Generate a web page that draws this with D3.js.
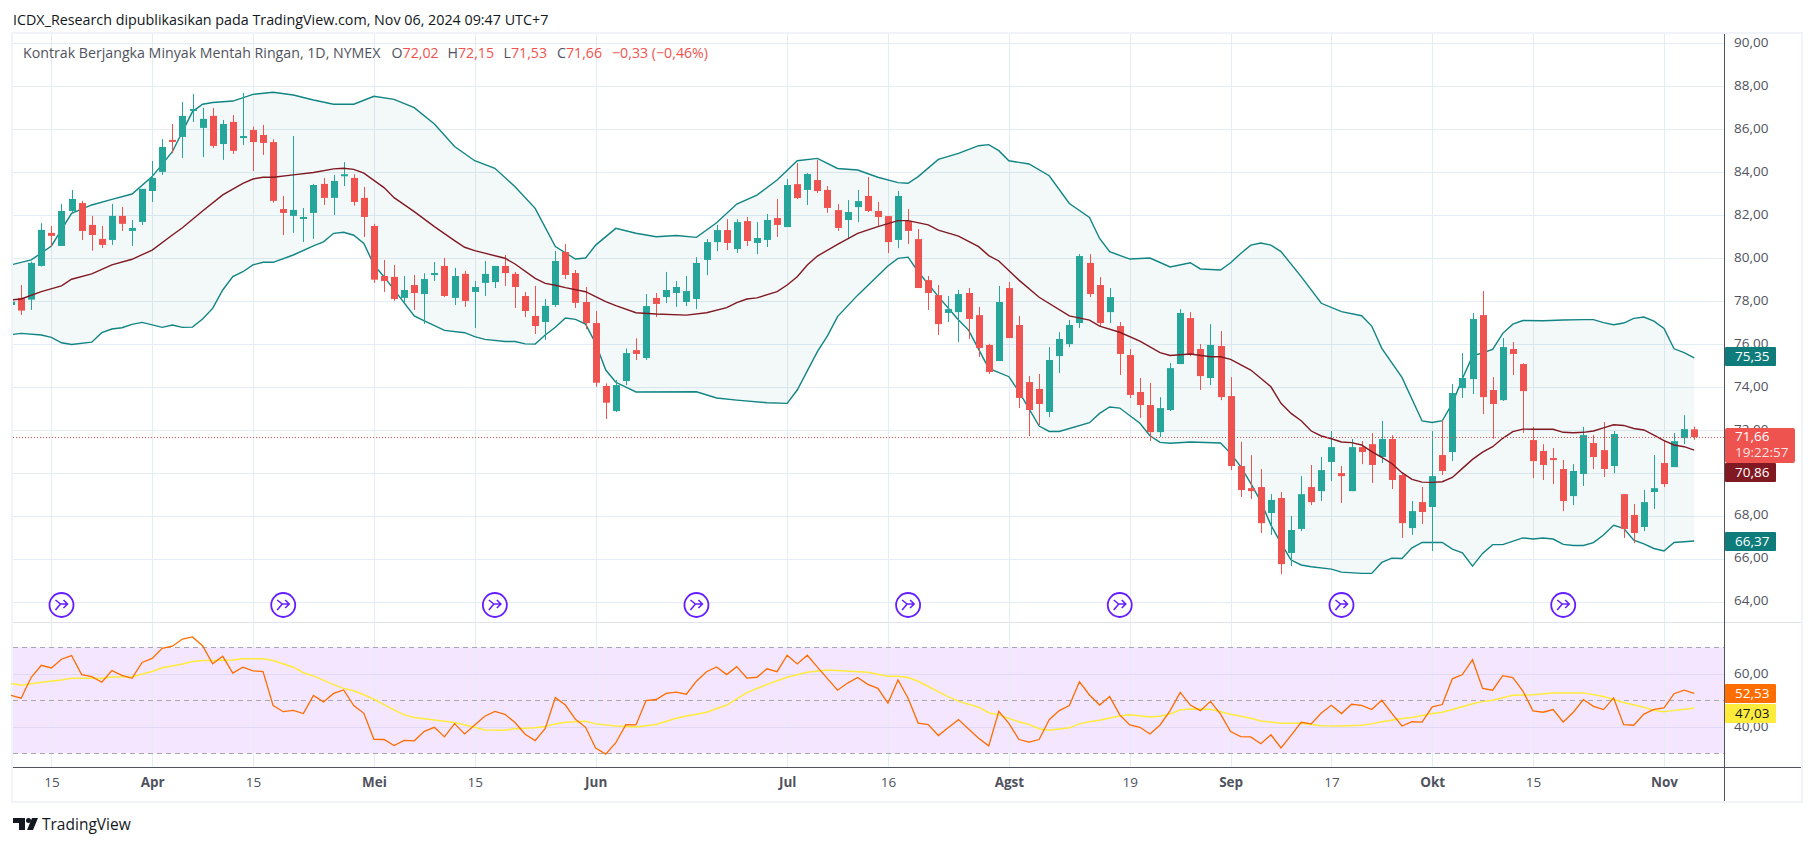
<!DOCTYPE html>
<html>
<head>
<meta charset="utf-8">
<script src="https://cdn.jsdelivr.net/npm/d3@7"></script>
<style>
  html, body { margin: 0; padding: 0; background: #fff; }
  svg { display: block; }
  text { font-family: "Open Sans", sans-serif; }
</style>
</head>
<body>
<svg id="chart" width="1814" height="846"></svg>
<script>
// candles, first one is mostly cut off by the left edge. index 0 = 15 Mar
const firstIndex = -4;
const candleOpen = [77.81,78.14,78.06,79.63,81.17,80.56,82.19,82.56,81.54,80.89,80.84,81.96,81.26,81.68,83.12,84.01,85.5,85.64,86.86,86.06,86.62,85.31,86.34,85.59,85.96,85.73,85.4,82.28,81.96,81.82,82.1,83.45,82.8,83.82,83.73,82.8,81.49,79.16,79.12,78.14,78.74,78.32,79.26,79.63,78.14,79.26,78.42,78.84,78.88,79.63,79.26,78.23,77.3,77.02,77.81,80.28,79.3,77.95,76.97,74.04,72.87,74.27,75.71,75.34,78.14,78.18,78.37,77.95,78.09,79.91,80.74,81.3,80.42,81.72,80.7,80.84,81.86,81.44,83.44,83.17,83.63,83.17,82.23,81.77,82.37,82.89,82.19,81.95,80.84,81.72,80.88,78.97,78.27,77.44,77.48,78.37,77.34,75.95,75.2,78.6,76.88,74.22,73.9,72.83,75.43,75.99,76.97,79.77,78.74,77.48,76.83,75.48,73.76,73.15,71.89,72.92,75.06,77.2,75.76,74.41,75.9,73.57,70.31,69.28,69.33,68.12,68.82,66.26,67.38,69.33,69.14,70.5,69.98,69.14,71.19,71.33,70.73,71.57,69.89,67.42,68.63,68.4,70.82,70.96,73.94,74.36,77.34,73.85,73.38,75.76,75.06,71.52,71.01,70.68,70.17,68.91,69.94,71.38,71.05,70.31,69.0,68.03,67.47,69.1,70.45,70.26,71.61,72.02];
const candleHigh = [78.2,78.74,79.83,81.62,81.49,82.52,83.17,82.66,81.96,81.49,82.52,82.38,81.77,83.22,84.52,85.54,86.24,87.27,87.64,87.0,86.99,86.43,86.66,87.69,86.12,86.2,85.53,82.89,85.68,82.33,83.45,83.73,83.87,84.47,83.9,83.31,81.59,79.91,79.68,79.16,79.21,79.29,79.81,80.0,79.54,79.4,78.93,79.86,79.63,80.14,79.35,78.42,78.7,78.09,80.33,80.65,79.44,78.65,77.53,74.16,74.32,75.79,76.26,78.32,78.37,79.35,78.93,79.16,80.04,80.88,81.54,81.81,81.81,81.91,81.67,82.05,82.75,83.68,84.42,83.96,84.56,83.35,82.51,82.7,83.17,83.77,82.61,81.96,83.12,82.28,81.35,79.16,78.74,78.23,78.51,78.6,77.72,76.0,78.7,78.88,77.3,74.5,74.6,75.85,76.55,77.11,80.18,80.18,79.11,78.6,77.02,75.76,74.41,74.18,73.52,75.11,77.62,77.48,75.99,76.92,76.6,74.45,71.44,70.82,70.17,69.0,69.1,67.98,69.84,70.36,70.73,71.94,70.31,71.57,71.47,71.85,72.41,71.75,69.94,68.68,69.33,71.94,72.45,74.13,75.57,77.44,78.46,74.45,76.27,76.09,75.09,72.13,71.33,71.15,70.59,70.4,72.13,71.75,72.36,71.94,69.0,68.54,69.19,70.82,71.52,71.85,72.68,72.15];
const candleLow = [77.6,77.35,77.58,79.6,80.53,80.56,82.08,80.84,80.34,80.47,80.61,81.26,80.56,81.54,82.61,83.87,84.88,84.66,86.34,84.7,85.13,84.57,84.85,85.26,84.05,84.8,82.58,81.07,81.17,80.75,80.89,82.47,82.0,83.35,82.44,80.98,78.84,78.42,78.0,77.95,77.58,76.93,78.93,78.18,77.81,77.72,76.74,78.23,78.6,78.7,77.67,77.25,76.46,76.18,77.72,79.02,77.67,76.69,74.0,72.5,72.82,74.08,75.25,75.25,77.25,77.9,77.72,77.76,77.62,79.2,80.32,80.37,80.23,80.56,80.18,80.51,80.98,81.44,82.75,82.47,83.03,82.1,81.26,80.88,81.67,82.14,81.49,80.23,80.46,80.65,78.6,77.58,76.41,77.02,76.09,76.23,75.39,74.6,75.2,76.27,73.01,71.71,72.22,72.59,74.64,75.85,76.74,78.18,76.83,76.97,74.55,73.48,72.55,71.48,71.66,72.87,75.06,75.43,73.85,74.08,73.38,70.12,68.87,68.77,67.19,67.1,65.28,65.65,67.28,68.49,68.68,69.61,68.59,69.14,70.4,69.52,70.45,69.24,66.96,67.1,67.61,66.35,69.89,70.54,73.48,73.66,72.73,71.58,73.34,74.55,71.85,69.75,69.66,69.47,68.21,68.49,69.38,70.17,69.8,69.98,66.96,66.72,67.28,68.31,69.33,70.26,71.33,71.53];
const candleClose = [77.97,77.55,79.77,81.31,81.03,82.19,82.75,81.26,81.07,80.61,81.96,81.59,81.4,83.22,83.73,85.17,85.45,86.62,86.94,86.48,85.22,86.24,84.99,85.68,85.4,85.36,82.66,82.1,82.24,81.91,83.4,82.8,83.59,83.9,82.61,81.91,78.99,78.93,78.09,78.51,78.37,79.02,79.3,78.23,79.16,78.0,78.65,79.26,79.63,79.3,78.65,77.53,76.83,77.77,79.86,79.21,77.91,76.97,74.19,73.26,74.08,75.57,75.53,77.76,77.86,78.51,78.65,78.46,79.77,80.74,81.3,80.7,81.67,80.79,80.93,81.77,81.54,83.4,82.79,83.91,83.12,82.33,81.4,82.14,82.65,82.19,81.91,80.74,82.89,81.26,78.6,78.37,76.92,77.62,78.32,77.16,75.81,74.69,77.95,76.27,73.48,72.92,73.2,75.25,76.23,76.88,80.09,78.32,76.97,78.18,75.53,73.62,73.15,71.89,73.01,74.87,77.44,75.53,74.5,75.95,73.52,70.31,69.19,69.14,67.65,68.73,65.74,67.33,69.0,68.63,70.12,71.19,69.84,71.19,70.96,70.36,71.57,69.66,67.65,68.21,68.17,69.84,70.08,73.71,74.41,77.16,73.52,73.2,75.85,75.53,73.8,70.54,70.36,70.64,68.68,70.08,71.75,70.73,70.17,71.8,67.38,67.19,68.63,69.28,69.47,71.47,72.03,71.66];

// bollinger bands, read where the line bends
const upperIdx = [-4,-2,0,2,4,6,8,10,12,14,15,16,18,20,22,24,26,28,30,32,34,36,38,40,42,44,46,48,50,52,53,54,56,58,60,62,64,66,68,70,72,74,76,78,80,82,84,85,86,88,90,92,93,94,95,97,99,101,103,104,105,107,109,111,113,114,116,117,118,119,120,121,122,124,126,128,130,131,132,134,136,137,138,139,140,141,143,144,145,146,148,150,152,153,154,155,156,157,158,159,160,161,162,163];
const upperVal = [79.68,79.91,80.56,82.08,82.47,82.73,82.98,83.79,84.95,86.82,87.16,87.24,87.31,87.62,87.72,87.59,87.36,87.16,87.16,87.53,87.39,87.0,86.24,85.19,84.53,84.18,83.32,82.31,80.53,79.95,80.0,80.6,81.38,81.15,80.99,81.05,80.96,81.64,82.51,82.93,83.63,84.53,84.64,84.17,84.1,83.76,83.51,83.48,83.79,84.59,84.87,85.23,85.28,85.0,84.53,84.38,83.83,82.54,81.89,80.91,80.29,79.95,80.0,79.58,79.78,79.49,79.44,79.78,80.21,80.6,80.7,80.6,80.3,79.13,77.89,77.5,77.31,76.83,75.79,74.44,72.41,72.34,72.42,73.23,74.39,75.43,75.74,76.49,76.92,77.09,77.08,77.11,77.13,77.13,76.99,76.89,76.97,77.19,77.25,77.06,76.72,75.77,75.59,75.35];
const basisIdx = [-4,-3,-1,1,2,4,6,8,10,12,13,15,17,19,20,21,22,24,26,28,29,30,31,33,34,36,38,40,41,42,45,46,48,49,50,51,53,55,56,58,60,63,65,67,68,69,70,72,73,74,75,76,78,80,82,84,85,87,88,90,92,93,94,96,98,101,103,104,106,108,110,111,113,115,116,117,119,121,122,123,124,125,126,127,128,129,130,131,132,133,134,135,136,137,138,139,140,141,142,143,144,145,146,147,149,150,151,152,153,154,155,156,157,158,159,160,161,162,163];
const basisVal = [78.05,78.09,78.43,78.7,79.01,79.26,79.68,79.94,80.37,81.07,81.41,82.19,82.94,83.48,83.68,83.76,83.76,83.87,83.98,84.15,84.18,84.13,83.95,83.28,82.81,82.16,81.46,80.81,80.5,80.34,79.99,79.72,79.05,78.82,78.73,78.62,78.43,77.97,77.78,77.45,77.39,77.34,77.45,77.69,77.92,78.09,78.14,78.43,78.74,79.13,79.67,80.09,80.63,81.15,81.46,81.74,81.74,81.54,81.3,81.02,80.53,80.11,79.86,78.97,78.17,77.3,77.11,76.83,76.54,76.13,75.59,75.46,75.53,75.4,75.4,75.28,74.78,74.0,73.23,72.76,72.42,71.94,71.71,71.58,71.43,71.4,71.29,70.98,70.71,70.43,70.0,69.69,69.56,69.55,69.58,69.78,70.2,70.62,70.96,71.21,71.6,71.91,72.03,72.02,72.02,71.88,71.86,71.88,71.94,72.09,72.23,72.2,72.06,71.99,71.75,71.49,71.29,71.21,71.05];
const lowerIdx = [-4,-3,-1,0,1,2,4,5,6,7,8,9,11,12,13,14,15,16,17,18,19,20,21,22,24,26,27,28,29,30,31,32,33,36,37,39,41,42,43,45,46,47,48,49,50,51,52,53,54,55,56,58,64,66,68,71,73,74,76,77,78,80,83,84,85,86,88,90,91,93,95,96,98,99,100,103,104,105,106,108,109,110,111,113,116,117,118,119,120,121,122,123,124,125,127,128,130,131,132,133,134,135,136,138,139,140,141,142,143,144,146,147,148,149,150,151,152,153,154,155,156,157,158,159,160,161,163];
const lowerVal = [76.43,76.49,76.41,76.3,76.05,75.97,76.08,76.52,76.69,76.75,76.91,77.0,76.77,76.88,76.77,76.78,77.16,77.65,78.51,79.13,79.36,79.68,79.8,79.8,80.14,80.56,80.75,81.15,81.2,81.06,80.68,79.68,79.13,77.3,77.07,76.63,76.52,76.34,76.21,76.11,76.11,76.0,75.99,76.41,76.77,77.2,77.14,76.92,76.02,74.78,74.21,73.76,73.77,73.48,73.38,73.26,73.23,73.85,75.64,76.37,77.27,78.27,79.63,79.98,80.04,79.36,78.2,77.11,76.64,74.86,74.47,73.77,72.17,71.92,71.92,72.33,72.76,73.06,73.01,72.3,71.72,71.41,71.37,71.43,71.38,70.9,70.28,69.5,68.65,67.56,66.71,65.93,65.7,65.62,65.51,65.37,65.31,65.31,65.82,66.02,66.0,66.5,66.75,66.75,66.44,66.27,65.65,66.24,66.65,66.65,66.96,66.91,66.96,66.91,66.66,66.61,66.61,66.74,67.1,67.55,67.41,66.86,66.68,66.47,66.35,66.75,66.82];

// rsi, one value per candle
const rsiVal = [51.9,50.8,58.7,63.2,62.2,65.5,66.9,59.7,58.9,56.8,61.2,59.4,58.3,64.3,65.8,69.6,70.4,73.1,73.9,70.6,63.8,66.6,60.3,62.5,61.1,60.8,48.0,45.7,46.2,45.0,51.8,49.4,52.6,53.9,48.0,45.1,35.3,35.2,32.9,34.9,34.7,38.3,39.8,36.2,41.2,37.3,40.7,44.0,45.8,44.7,41.6,37.2,34.8,39.4,51.0,48.2,42.8,39.8,32.0,29.7,34.0,40.8,40.7,49.9,50.3,52.6,53.1,52.3,57.2,60.8,62.6,59.7,62.7,58.4,58.7,61.9,60.8,67.0,63.7,67.0,62.5,58.2,53.8,56.5,58.6,56.0,54.5,48.9,57.7,50.8,41.4,40.8,36.7,39.7,42.7,39.2,35.7,32.8,45.8,41.3,35.2,34.2,35.2,42.7,46.1,48.0,57.0,52.0,48.2,51.4,44.5,40.7,39.8,37.3,40.7,46.1,53.0,48.2,46.1,49.6,44.8,38.2,36.3,36.2,33.6,37.0,32.0,36.8,41.7,41.1,45.2,48.1,45.0,48.5,48.1,46.5,50.0,45.1,40.3,41.9,41.8,47.5,48.4,58.1,59.7,65.3,54.5,53.8,59.3,58.6,53.5,46.0,45.5,46.5,41.8,45.5,50.3,47.7,46.5,50.9,40.8,40.6,44.8,46.6,47.1,52.5,53.8,52.6];
const rsiMaIdx = [-4,-3,-1,1,2,4,5,6,8,10,11,13,14,15,16,18,19,21,22,24,25,26,28,29,30,31,32,33,34,35,36,38,40,42,43,45,46,48,49,50,51,53,54,56,58,60,62,63,64,65,67,69,71,73,75,77,81,83,84,85,86,89,90,92,93,94,96,97,98,99,101,102,103,104,106,107,109,110,111,112,113,115,116,117,119,120,122,124,126,128,130,131,132,134,135,137,138,140,141,142,143,145,147,149,150,152,154,156,158,159,160,161,163];
const rsiMaVal = [56.3,55.7,56.8,57.7,58.3,58.3,58.2,58.8,58.9,60.9,62.3,63.7,64.6,65.0,65.0,65.2,65.7,65.7,65.0,62.5,60.4,59.2,55.9,54.5,53.6,52.1,50.4,48.4,46.4,44.5,43.5,42.6,41.6,39.8,38.8,38.7,39.3,39.6,40.1,41.1,41.7,42.1,41.1,40.3,39.9,40.9,43.2,44.1,44.7,45.5,48.2,52.9,56.0,58.7,60.6,61.4,60.6,59.1,59.1,58.6,57.2,51.3,49.7,47.4,45.3,44.5,41.9,40.9,39.3,38.7,39.6,41.1,41.9,42.5,44.1,44.5,43.7,44.0,44.8,46.4,46.7,46.6,45.7,44.7,43.2,42.2,41.3,41.3,40.4,40.3,40.6,41.1,41.9,43.1,43.5,45.0,45.5,47.6,48.7,49.5,50.0,51.9,52.1,52.8,52.8,52.8,51.4,49.2,47.4,46.2,45.7,46.2,47.03];

// time axis
const timeIdx = [0,10,20,32,42,54,73,83,95,107,117,127,137,147,160];
const timeLabels = ["15","Apr","15","Mei","15","Jun","Jul","16","Agst","19","Sep","17","Okt","15","Nov"];
const monthLabels = ["Apr","Mei","Jun","Jul","Agst","Sep","Okt","Nov"];
// price and rsi axes
const priceTicks = d3.range(64, 91, 2);
const rsiGrid = [60, 40];
const rsiDashed = [70, 50, 30];
// the purple event markers
const eventIdx = [1,23,44,64,85,106,128,150];

const titleText = "ICDX_Research dipublikasikan pada TradingView.com, Nov 06, 2024 09:47 UTC+7";
const legendName = "Kontrak Berjangka Minyak Mentah Ringan, 1D, NYMEX";
const ohlcLabels = ["O","H","L","C"];
const ohlcValues = ["72,02","72,15","71,53","71,66"];
const changeText = "\u22120,33 (\u22120,46%)";

const lastPrice = 71.66;
const tagUpper = 75.35, tagBasis = 70.86, tagLower = 66.37;
const tagRsi = 52.53, tagRsiMa = 47.03;

const red = "#ef5350", green = "#26a69a", bandColor = "#128484", basisColor = "#801922";
const gridColor = "#e4edf3", textColor = "#50535e", axisColor = "#50535e";

const plotLeft = 13, plotRight = 1724, outerRight = 1801;
const plotTop = 34, paneSplit = 622, paneBottom = 767, frameBottom = 801;

const fmt = (v) => v.toFixed(2).replace(".", ",");

const svg = d3.select("#chart");

const x = d3.scaleLinear().domain([0, 160]).range([51.4, 1664]);
const y = d3.scaleLinear().domain([64, 90]).range([601.5, 43.3]);
const yRsi = d3.scaleLinear().domain([30, 70]).range([753.3, 647.3]);

svg.append("defs").append("clipPath").attr("id", "plot-clip")
  .append("rect").attr("x", plotLeft).attr("y", plotTop)
  .attr("width", plotRight - plotLeft).attr("height", paneSplit - plotTop);

// frame around the whole chart
svg.append("rect")
  .attr("x", plotLeft - 1).attr("y", plotTop - 1)
  .attr("width", outerRight - plotLeft + 2).attr("height", frameBottom - plotTop + 2)
  .attr("fill", "none").attr("stroke", "#f0f3fa").attr("stroke-width", 2);

svg.append("text").attr("x", 13).attr("y", 25)
  .attr("font-size", 14.3).attr("fill", "#131722").text(titleText);

// rsi band sits under the grid
svg.append("rect")
  .attr("x", plotLeft).attr("width", plotRight - plotLeft)
  .attr("y", yRsi(70)).attr("height", yRsi(30) - yRsi(70))
  .attr("fill", "#f4e6fe");

// grid
const grid = svg.append("g");
grid.selectAll(".h").data(priceTicks).join("line")
  .attr("x1", plotLeft).attr("x2", plotRight)
  .attr("y1", (d) => Math.round(y(d)) + 0.5).attr("y2", (d) => Math.round(y(d)) + 0.5)
  .attr("stroke", gridColor);
grid.selectAll(".v").data(timeIdx).join("line")
  .attr("x1", (d) => Math.round(x(d)) + 0.5).attr("x2", (d) => Math.round(x(d)) + 0.5)
  .attr("y1", plotTop).attr("y2", paneBottom)
  .attr("stroke", gridColor);
grid.selectAll(".r").data(rsiGrid).join("line")
  .attr("x1", plotLeft).attr("x2", plotRight)
  .attr("y1", (d) => Math.round(yRsi(d)) + 0.5).attr("y2", (d) => Math.round(yRsi(d)) + 0.5)
  .attr("stroke", "#e0d8f4");
grid.selectAll(".d").data(rsiDashed).join("line")
  .attr("x1", plotLeft).attr("x2", plotRight)
  .attr("y1", (d) => Math.round(yRsi(d)) + 0.5).attr("y2", (d) => Math.round(yRsi(d)) + 0.5)
  .attr("stroke", "#a9a7ae").attr("stroke-dasharray", "5,4");

// separators
svg.append("line").attr("x1", plotLeft).attr("x2", outerRight)
  .attr("y1", paneSplit + 0.5).attr("y2", paneSplit + 0.5).attr("stroke", "#e0e3eb");
svg.append("line").attr("x1", plotLeft).attr("x2", outerRight)
  .attr("y1", paneBottom + 0.5).attr("y2", paneBottom + 0.5).attr("stroke", axisColor);
svg.append("line").attr("x1", plotRight + 0.5).attr("x2", plotRight + 0.5)
  .attr("y1", plotTop).attr("y2", frameBottom).attr("stroke", axisColor);

const plot = svg.append("g").attr("clip-path", "url(#plot-clip)");

// bollinger area, upper and lower are read at different candles so fill
// it as a closed shape going along the upper line and back along the lower
const upperPts = upperIdx.map((d, k) => [x(d), y(upperVal[k])]);
const lowerPts = lowerIdx.map((d, k) => [x(d), y(lowerVal[k])]);
plot.append("path")
  .attr("d", d3.line()(upperPts.concat(lowerPts.slice().reverse())) + "Z")
  .attr("fill", "#128484").attr("fill-opacity", 0.05);

const line = d3.line();
plot.append("path").attr("d", line(upperPts))
  .attr("fill", "none").attr("stroke", bandColor).attr("stroke-width", 1.4);
plot.append("path").attr("d", line(lowerPts))
  .attr("fill", "none").attr("stroke", bandColor).attr("stroke-width", 1.4);

// candles
const candles = candleOpen.map((o, k) => ({
  i: firstIndex + k, o, h: candleHigh[k], l: candleLow[k], c: candleClose[k],
}));
const candleColor = (d) => (d.c >= d.o ? green : red);

plot.selectAll(".wick").data(candles).join("rect")
  .attr("x", (d) => Math.round(x(d.i)))
  .attr("width", 1)
  .attr("y", (d) => y(d.h))
  .attr("height", (d) => y(d.l) - y(d.h))
  .attr("fill", candleColor);
plot.selectAll(".body").data(candles).join("rect")
  .attr("x", (d) => Math.round(x(d.i)) - 3)
  .attr("width", 7)
  .attr("y", (d) => y(Math.max(d.o, d.c)))
  .attr("height", (d) => Math.max(2, Math.abs(y(d.o) - y(d.c))))
  .attr("fill", candleColor);

plot.append("path")
  .attr("d", line(basisIdx.map((d, k) => [x(d), y(basisVal[k])])))
  .attr("fill", "none").attr("stroke", basisColor).attr("stroke-width", 1.4);

// last price
svg.append("line").attr("x1", plotLeft).attr("x2", plotRight)
  .attr("y1", Math.round(y(lastPrice)) + 0.5).attr("y2", Math.round(y(lastPrice)) + 0.5)
  .attr("stroke", red).attr("stroke-dasharray", "1,2");

// rsi lines
svg.append("path")
  .attr("d", line(rsiMaIdx.map((d, k) => [x(d), yRsi(rsiMaVal[k])])))
  .attr("fill", "none").attr("stroke", "#ffeb3b").attr("stroke-width", 1.5);
svg.append("path")
  .attr("d", line(rsiVal.map((d, k) => [x(firstIndex + k), yRsi(d)])))
  .attr("fill", "none").attr("stroke", "#ff6d00").attr("stroke-width", 1.3);

// event markers
const markers = svg.append("g").selectAll("g").data(eventIdx).join("g")
  .attr("transform", (d) => `translate(${x(d)},605)`);
markers.append("circle").attr("r", 12)
  .attr("fill", "#fff").attr("stroke", "#651fff").attr("stroke-width", 1.8);
markers.append("path")
  .attr("d", "M-6,-5 L-1,-1 H6 M2,-5 L6,-1 L2,3 M-1,-1 L-6,5")
  .attr("fill", "none").attr("stroke", "#651fff").attr("stroke-width", 1.6);

// axes
const priceAxis = d3.axisRight(y).tickValues(priceTicks).tickFormat(fmt).tickSize(0).tickPadding(10);
const priceG = svg.append("g").attr("transform", `translate(${plotRight},-1)`).call(priceAxis);
priceG.select(".domain").remove();
priceG.selectAll("text").attr("font-size", 13.5).attr("fill", textColor).style("font-family", "Open Sans");

const rsiAxis = d3.axisRight(yRsi).tickValues(rsiGrid).tickFormat(fmt).tickSize(0).tickPadding(10);
const rsiG = svg.append("g").attr("transform", `translate(${plotRight},-1)`).call(rsiAxis);
rsiG.select(".domain").remove();
rsiG.selectAll("text").attr("font-size", 13.5).attr("fill", textColor).style("font-family", "Open Sans");

const timeAxis = d3.axisBottom(x).tickValues(timeIdx)
  .tickFormat((d) => timeLabels[timeIdx.indexOf(d)]).tickSize(0).tickPadding(10.5);
const timeG = svg.append("g").attr("transform", `translate(0,${paneBottom})`).call(timeAxis);
timeG.select(".domain").remove();
timeG.selectAll("text")
  .attr("font-size", 13.5).attr("fill", textColor)
  .attr("font-weight", (d) => (monthLabels.includes(timeLabels[timeIdx.indexOf(d)]) ? 700 : 400))
  .style("font-family", "Open Sans");

// value tags on the right
const tag = (value, cy, fill, color) => {
  svg.append("rect").attr("x", plotRight + 1).attr("y", cy - 9.5).attr("width", 51).attr("height", 19)
    .attr("rx", 1).attr("fill", fill);
  svg.append("text").attr("x", plotRight + 11).attr("y", cy).attr("dy", "0.35em")
    .attr("font-size", 13.5).attr("fill", color).text(fmt(value));
};
// the lower tag is nudged up off the 66,00 label, same as the original
tag(tagUpper, 356.5, "#0e7c7b", "#fff");
tag(tagLower, 541.5, "#0e7c7b", "#fff");
tag(tagRsi, yRsi(tagRsi), "#ff6d00", "#fff");
tag(tagRsiMa, yRsi(tagRsi) + 20, "#ffeb3b", "#131722");

// last price tag has the countdown underneath, basis tag is pushed below it
svg.append("rect").attr("x", plotRight + 1).attr("y", 428).attr("width", 70).attr("height", 35)
  .attr("rx", 2).attr("fill", red);
svg.append("text").attr("x", plotRight + 11).attr("y", 436).attr("dy", "0.35em")
  .attr("font-size", 13.5).attr("fill", "#fff").text(fmt(lastPrice));
svg.append("text").attr("x", plotRight + 11).attr("y", 452).attr("dy", "0.35em")
  .attr("font-size", 13.5).attr("fill", "#fff").attr("fill-opacity", 0.85).text("19:22:57");
tag(tagBasis, 472.5, basisColor, "#fff");

// legend line
const legendY = 58;
svg.append("text").attr("x", 23).attr("y", legendY)
  .attr("font-size", 14.2).attr("fill", textColor).text(legendName);
const ohlcX = [391.5, 447.5, 503.5, 557];
ohlcLabels.forEach((l, k) => {
  const t = svg.append("text").attr("x", ohlcX[k]).attr("y", legendY).attr("font-size", 14.2);
  t.append("tspan").attr("fill", textColor).text(l);
  t.append("tspan").attr("fill", red).text(ohlcValues[k]);
});
svg.append("text").attr("x", 612).attr("y", legendY)
  .attr("font-size", 14.2).attr("fill", red).text(changeText);

// footer logo
svg.append("path")
  .attr("d", "M13,818 h12 v12 h-6 v-7 h-6 Z M27,830 L32,818 H38 L33,830 Z")
  .attr("fill", "#131722");
svg.append("circle").attr("cx", 28.5).attr("cy", 820.5).attr("r", 2.5).attr("fill", "#131722");
svg.append("text").attr("x", 42).attr("y", 830)
  .attr("font-size", 15.5).attr("fill", "#131722").text("TradingView");
</script>
</body>
</html>
